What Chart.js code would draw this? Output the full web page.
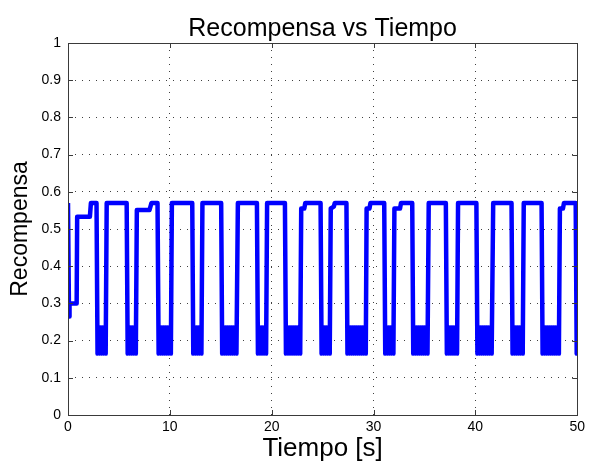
<!DOCTYPE html>
<html>
<head>
<meta charset="utf-8">
<script src="https://cdn.jsdelivr.net/npm/chart.js@4/dist/chart.umd.min.js"></script>
<style>
  body { margin: 0; background: #fff; }
  canvas { display: block; }
</style>
</head>
<body>
<canvas id="recompensaChart" width="589" height="463"></canvas>
<script>
// Datos (tiempo en s, recompensa)
const tiempo = [
    0, 0.1, 0.15, 0.85, 0.9, 2.15, 2.25, 2.8,
    2.9, 3.0, 3.1, 3.2, 3.3, 3.4, 3.5, 3.6, 3.7, 3.8, 5.76,
    5.86, 5.96, 6.06, 6.16, 6.26, 6.36, 6.46, 6.56, 6.66, 6.76, 8.0, 8.2, 8.79,
    8.9, 9.0, 9.1, 9.2, 9.3, 9.4, 9.5, 9.6, 9.7, 9.8, 9.9, 10.0, 10.1, 10.2, 12.2,
    12.3, 12.4, 12.5, 12.6, 12.7, 12.8, 12.9, 13.0, 13.1, 13.2, 15.04,
    15.14, 15.24, 15.34, 15.44, 15.54, 15.64, 15.74, 15.84, 15.94, 16.04, 16.14, 16.24, 16.34, 16.44, 16.54, 16.68, 18.55,
    18.65, 18.75, 18.85, 18.95, 19.05, 19.15, 19.25, 19.35, 19.45, 19.55, 21.3,
    21.4, 21.5, 21.6, 21.7, 21.8, 21.9, 22.0, 22.1, 22.2, 22.3, 22.4, 22.5, 22.6, 22.7, 22.8, 22.9, 23.2, 23.3, 24.8,
    24.9, 25.0, 25.1, 25.2, 25.3, 25.4, 25.5, 25.6, 25.7, 25.8, 26.1, 26.2, 27.34,
    27.44, 27.54, 27.64, 27.74, 27.84, 27.94, 28.04, 28.14, 28.24, 28.34, 28.44, 28.54, 28.64, 28.74, 28.84, 28.94, 29.04, 29.14, 29.24, 29.32, 29.6, 29.7, 31.05,
    31.15, 31.25, 31.35, 31.45, 31.55, 31.65, 31.75, 31.85, 31.95, 32.05, 32.6, 32.7, 33.8,
    33.9, 34.0, 34.1, 34.2, 34.3, 34.4, 34.5, 34.6, 34.7, 34.8, 34.9, 35.0, 35.1, 35.2, 35.3, 35.42, 37.1,
    37.2, 37.3, 37.4, 37.5, 37.6, 37.7, 37.8, 37.9, 38.0, 38.1, 38.2, 38.3, 40.1,
    40.2, 40.3, 40.4, 40.5, 40.6, 40.7, 40.8, 40.9, 41.0, 41.1, 41.2, 41.3, 41.4, 41.5, 41.6, 41.75, 43.55,
    43.65, 43.75, 43.85, 43.95, 44.05, 44.15, 44.25, 44.35, 44.45, 44.55, 44.65, 44.75, 46.5,
    46.6, 46.7, 46.8, 46.9, 47.0, 47.1, 47.2, 47.3, 47.4, 47.5, 47.6, 47.7, 47.8, 47.9, 48.0, 48.1, 48.2, 48.3, 48.6, 48.7, 49.85,
    49.95, 50
];
const recompensa = [
    0.57, 0.265, 0.30, 0.30, 0.533, 0.533, 0.57, 0.57,
    0.165, 0.235, 0.165, 0.235, 0.165, 0.235, 0.165, 0.235, 0.165, 0.57, 0.57,
    0.165, 0.235, 0.165, 0.235, 0.165, 0.235, 0.165, 0.235, 0.165, 0.551, 0.551, 0.57, 0.57,
    0.165, 0.235, 0.165, 0.235, 0.165, 0.235, 0.165, 0.235, 0.165, 0.235, 0.165, 0.235, 0.165, 0.57, 0.57,
    0.165, 0.235, 0.165, 0.235, 0.165, 0.235, 0.165, 0.235, 0.165, 0.57, 0.57,
    0.165, 0.235, 0.165, 0.235, 0.165, 0.235, 0.165, 0.235, 0.165, 0.235, 0.165, 0.235, 0.165, 0.235, 0.165, 0.57, 0.57,
    0.165, 0.235, 0.165, 0.235, 0.165, 0.235, 0.165, 0.235, 0.165, 0.57, 0.57,
    0.165, 0.235, 0.165, 0.235, 0.165, 0.235, 0.165, 0.235, 0.165, 0.235, 0.165, 0.235, 0.165, 0.235, 0.165, 0.555, 0.555, 0.57, 0.57,
    0.165, 0.235, 0.165, 0.235, 0.165, 0.235, 0.165, 0.235, 0.165, 0.555, 0.56, 0.57, 0.57,
    0.165, 0.235, 0.165, 0.235, 0.165, 0.235, 0.165, 0.235, 0.165, 0.235, 0.165, 0.235, 0.165, 0.235, 0.165, 0.235, 0.165, 0.235, 0.165, 0.555, 0.555, 0.57, 0.57,
    0.165, 0.235, 0.165, 0.235, 0.165, 0.235, 0.165, 0.235, 0.165, 0.555, 0.555, 0.57, 0.57,
    0.165, 0.235, 0.165, 0.235, 0.165, 0.235, 0.165, 0.235, 0.165, 0.235, 0.165, 0.235, 0.165, 0.235, 0.165, 0.57, 0.57,
    0.165, 0.235, 0.165, 0.235, 0.165, 0.235, 0.165, 0.235, 0.165, 0.235, 0.165, 0.57, 0.57,
    0.165, 0.235, 0.165, 0.235, 0.165, 0.235, 0.165, 0.235, 0.165, 0.235, 0.165, 0.235, 0.165, 0.235, 0.165, 0.57, 0.57,
    0.165, 0.235, 0.165, 0.235, 0.165, 0.235, 0.165, 0.235, 0.165, 0.235, 0.165, 0.57, 0.57,
    0.165, 0.235, 0.165, 0.235, 0.165, 0.235, 0.165, 0.235, 0.165, 0.235, 0.165, 0.235, 0.165, 0.235, 0.165, 0.235, 0.165, 0.555, 0.555, 0.57, 0.57,
    0.165, 0.165
];
const xTicks = [0, 10, 20, 30, 40, 50];
const yTicks = [0, 0.1, 0.2, 0.3, 0.4, 0.5, 0.6, 0.7, 0.8, 0.9, 1];

if (tiempo.length !== recompensa.length) {
    console.error('tiempo y recompensa no tienen el mismo largo', tiempo.length, recompensa.length);
}

const fuente = "'Liberation Sans', Arial, Helvetica, sans-serif";

// Caja de ejes y marcas hacia dentro (estilo MATLAB)
const cajaEjes = {
    id: 'cajaEjes',
    afterDraw(chart) {
        const { ctx, chartArea: a, scales } = chart;
        ctx.save();
        ctx.strokeStyle = '#3a3a3a';
        ctx.lineWidth = 1;
        ctx.beginPath();
        xTicks.forEach(v => {
            const px = Math.round(scales.x.getPixelForValue(v)) + 0.5;
            ctx.moveTo(px, a.bottom); ctx.lineTo(px, a.bottom - 5);
            ctx.moveTo(px, a.top); ctx.lineTo(px, a.top + 5);
        });
        yTicks.forEach(v => {
            const py = Math.round(scales.y.getPixelForValue(v)) + 0.5;
            ctx.moveTo(a.left, py); ctx.lineTo(a.left + 5, py);
            ctx.moveTo(a.right, py); ctx.lineTo(a.right - 5, py);
        });
        ctx.stroke();
        ctx.strokeRect(Math.round(a.left) + 0.5, Math.round(a.top) + 0.5,
            Math.round(a.right - a.left), Math.round(a.bottom - a.top));
        ctx.restore();
    }
};

const puntos = tiempo.map((t, i) => ({ x: t, y: recompensa[i] }));

const ctx = document.getElementById('recompensaChart').getContext('2d');
new Chart(ctx, {
    type: 'line',
    data: {
        datasets: [{
            label: 'Recompensa',
            data: puntos,
            borderColor: '#0000ff',
            borderWidth: 4.5,
            borderJoinStyle: 'round',
            pointRadius: 0,
            tension: 0,
            fill: false
        }]
    },
    options: {
        responsive: false,
        animation: false,
        layout: { padding: { left: 0, right: 9, top: 0, bottom: 0 } },
        plugins: {
            legend: { display: false },
            tooltip: { enabled: false },
            title: {
                display: true,
                fullSize: false,
                text: 'Recompensa vs Tiempo',
                color: '#000',
                font: { family: fuente, size: 25, weight: 'normal', lineHeight: 1.1 },
                padding: { top: 15, bottom: 0.5 }
            }
        },
        scales: {
            x: {
                type: 'linear',
                min: 0,
                max: 50,
                afterBuildTicks: s => { s.ticks = xTicks.map(v => ({ value: v })); },
                afterFit: s => { s.height = 48; },
                grid: { color: 'rgba(0,0,0,0.75)', lineWidth: 1, drawTicks: false },
                border: { display: false, dash: [1, 6] },
                ticks: { color: '#000', padding: 4, font: { family: fuente, size: 14 } },
                title: {
                    display: true,
                    text: 'Tiempo [s]',
                    color: '#000',
                    font: { family: fuente, size: 26, lineHeight: 1 },
                    padding: { top: 0, bottom: 1 }
                }
            },
            y: {
                min: 0,
                max: 1,
                afterBuildTicks: s => { s.ticks = yTicks.map(v => ({ value: v })); },
                afterFit: s => { s.width = 68; },
                grid: { color: 'rgba(0,0,0,0.75)', lineWidth: 1, drawTicks: false },
                border: { display: false, dash: [1, 6] },
                ticks: {
                    color: '#000',
                    padding: 7,
                    font: { family: fuente, size: 14 },
                    callback: v => String(v)
                },
                title: {
                    display: true,
                    text: 'Recompensa',
                    color: '#000',
                    font: { family: fuente, size: 23, lineHeight: 1.2 },
                    padding: { top: 7, bottom: 0 }
                }
            }
        }
    },
    plugins: [cajaEjes]
});
</script>
</body>
</html>
